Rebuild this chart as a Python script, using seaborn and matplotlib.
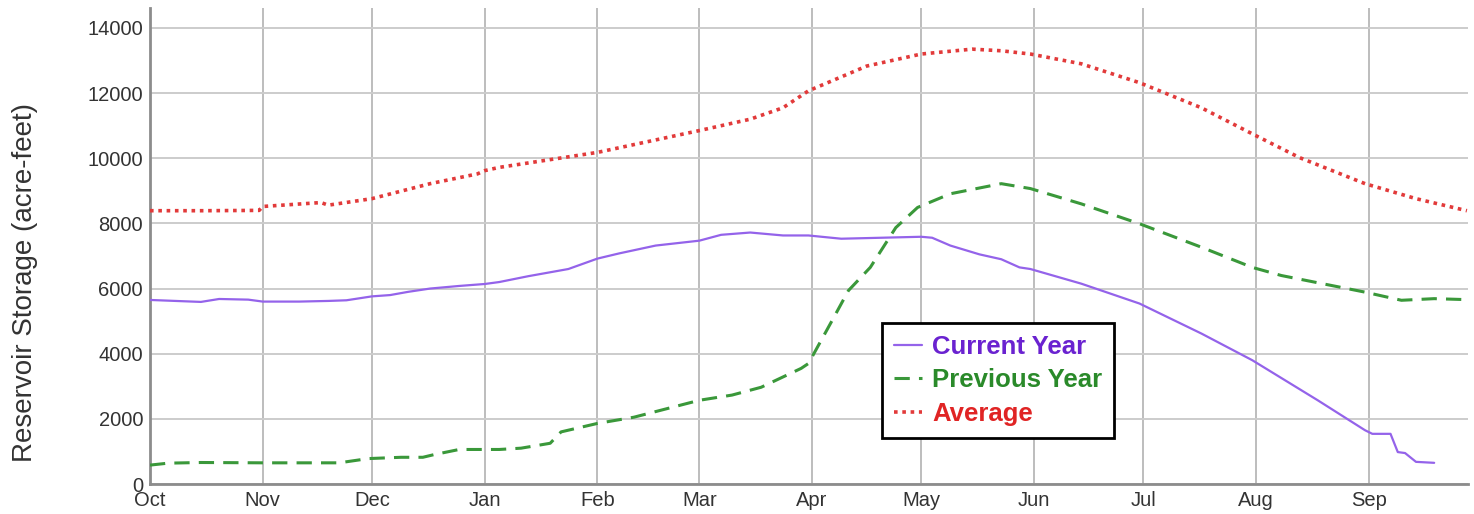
import numpy as np
import pandas as pd
import seaborn as sns
import matplotlib
matplotlib.use("Agg")
import matplotlib.pyplot as plt

# ---- data (day of water year, acre-feet) ----
month_labels = ["Oct", "Nov", "Dec", "Jan", "Feb", "Mar", "Apr", "May", "Jun", "Jul", "Aug", "Sep"]
month_days = [31, 30, 31, 31, 28, 31, 30, 31, 30, 31, 31, 30]

cur_day = [0, 7, 14, 19, 27, 31, 41, 49, 54, 61, 66, 71, 77, 85, 92, 96, 104, 115, 123, 129,
           139, 151, 157, 165, 174, 181, 190, 201, 212, 215, 220, 228, 234, 239, 242, 256,
           272, 289, 303, 321, 334, 336, 341, 343, 345, 348, 353]
cur_val = [5650, 5620, 5590, 5680, 5660, 5600, 5600, 5620, 5640, 5760, 5800, 5900, 6000, 6080,
           6140, 6200, 6380, 6600, 6920, 7080, 7320, 7470, 7650, 7720, 7630, 7630, 7530, 7560,
           7590, 7560, 7320, 7050, 6900, 6650, 6600, 6150, 5540, 4620, 3800, 2570, 1650, 1540,
           1540, 980, 950, 680, 650]

prev_day = [0, 5, 14, 31, 52, 60, 69, 75, 78, 85, 96, 102, 110, 113, 123, 133, 151, 160, 168,
            179, 181, 188, 192, 198, 205, 211, 220, 234, 242, 256, 272, 289, 303, 311, 334,
            344, 353, 362]
prev_val = [580, 640, 660, 650, 650, 780, 820, 820, 900, 1060, 1060, 1100, 1250, 1600, 1860,
            2050, 2570, 2730, 2970, 3550, 3700, 5120, 5940, 6650, 7870, 8490, 8910, 9220, 9070,
            8600, 7990, 7270, 6650, 6400, 5890, 5640, 5690, 5660]

avg_day = [0, 15, 30, 31, 47, 49, 61, 77, 90, 92, 96, 123, 151, 165, 174, 181, 197, 212, 226,
           234, 242, 256, 272, 289, 303, 316, 334, 348, 362]
avg_val = [8390, 8390, 8400, 8520, 8640, 8560, 8760, 9220, 9520, 9620, 9720, 10180, 10850,
           11200, 11550, 12070, 12830, 13200, 13350, 13300, 13200, 12900, 12320, 11550, 10750,
           10020, 9220, 8760, 8390]

series_names = ["Current Year", "Previous Year", "Average"]
y_ticks = [0, 2000, 4000, 6000, 8000, 10000, 12000, 14000]

df_cur = pd.DataFrame({"day": cur_day, "value": cur_val})
df_prev = pd.DataFrame({"day": prev_day, "value": prev_val})
df_avg = pd.DataFrame({"day": avg_day, "value": avg_val})

sns.set_style("white")
plt.rcParams["font.family"] = ["Liberation Sans", "DejaVu Sans"]

fig = plt.figure(figsize=(14.74, 5.14), dpi=100)
ax = fig.add_axes([150 / 1474, 30 / 514, 1318 / 1474, 476 / 514])

c_cur, c_prev, c_avg = "#9463ea", "#3a983a", "#e23a3a"
sns.lineplot(data=df_cur, x="day", y="value", ax=ax, color=c_cur, lw=1.6,
             label=series_names[0], zorder=5)
sns.lineplot(data=df_prev, x="day", y="value", ax=ax, color=c_prev, lw=2.2,
             label=series_names[1], zorder=4)
sns.lineplot(data=df_avg, x="day", y="value", ax=ax, color=c_avg, lw=2.6,
             label=series_names[2], zorder=3)
lines = ax.get_lines()
lines[1].set_dashes([5, 3])
lines[2].set_dashes([1, 1.3])

month_starts = np.concatenate([[0], np.cumsum(month_days)[:-1]])
ax.set_xticks(month_starts)
ax.set_xticklabels(month_labels)
ax.set_yticks(y_ticks)
ax.set_yticklabels([str(v) for v in y_ticks])
ax.set_xlim(0, 362.3)
ax.set_ylim(0, 14613)

ax.grid(True, axis="y", color="#cccccc", lw=1.4)
ax.grid(True, axis="x", color="#bdbdbd", lw=1.4)
ax.set_axisbelow(True)
for s in ["top", "right"]:
    ax.spines[s].set_visible(False)
for s in ["left", "bottom"]:
    ax.spines[s].set_color("#8c8c8c")
    ax.spines[s].set_linewidth(2)
ax.tick_params(axis="both", length=0, labelsize=14.5, colors="#333333")
ax.tick_params(axis="y", pad=5)
ax.tick_params(axis="x", pad=5)
ax.set_xlabel("")
ax.set_ylabel("Reservoir Storage (acre-feet)", fontsize=20, color="#333333")
ax.yaxis.label.set_va("center")
ax.yaxis.set_label_coords((25 - 150) / 1318, (484 - 283) / 476)

handles, labels = ax.get_legend_handles_labels()
leg = ax.legend(handles, labels, loc="upper left",
                bbox_to_anchor=(882 / 1474, 1 - 323 / 514), bbox_transform=fig.transFigure,
                borderaxespad=0,
                frameon=True, fancybox=False, framealpha=1, edgecolor="black",
                handlelength=1.1, handletextpad=0.4, borderpad=0.45, labelspacing=0.38,
                prop={"weight": "bold", "size": 18.5},
                labelcolor=["#6a22d0", "#2a8a2a", "#e02424"])
leg.get_frame().set_linewidth(2)

fig.savefig("out.png", dpi=100)
